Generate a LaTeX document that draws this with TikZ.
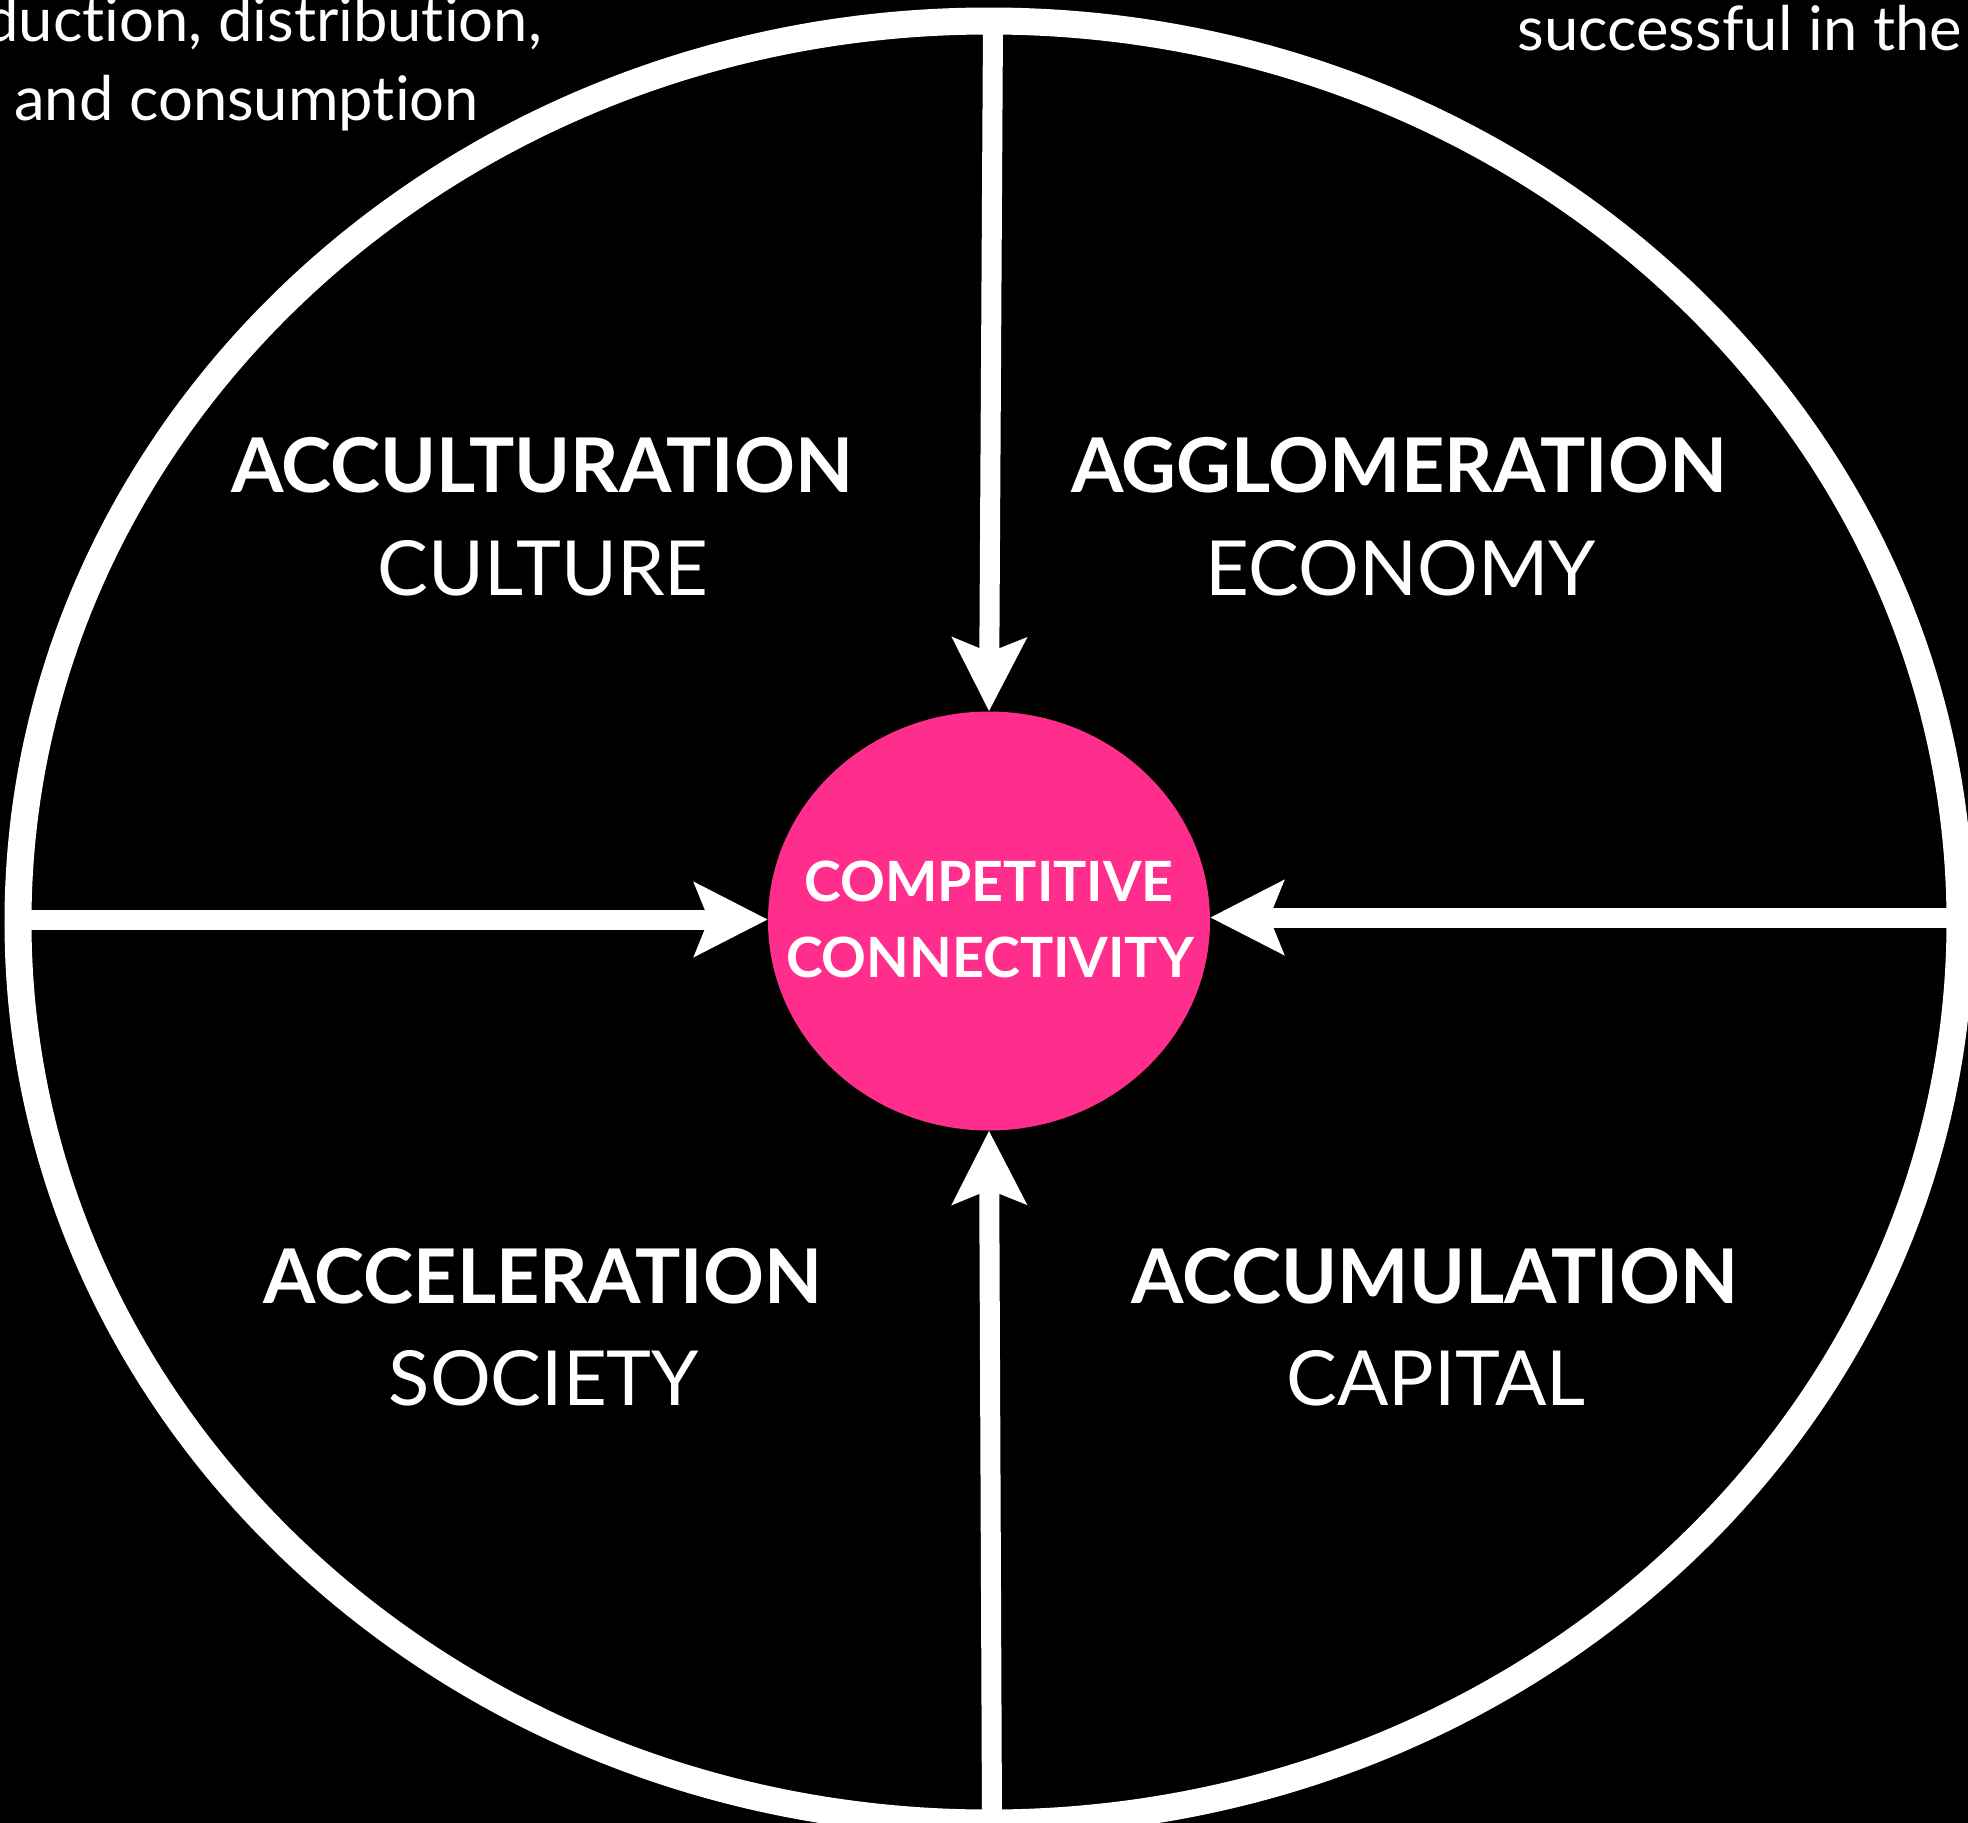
\documentclass[tikz,border=0pt]{standalone}
\usepackage{fontspec}
\setmainfont{Lato}[Ligatures={NoCommon}]
\usetikzlibrary{arrows.meta,shapes.geometric}
\definecolor{hubpink}{RGB}{255,46,140}
\tikzset{
  conn/.style={draw=white,line width=20pt,-{Stealth[length=73pt,width=73pt,inset=14pt]}},
  boldlab/.style={text=white,font=\fontsize{75.5}{80}\selectfont\bfseries,inner sep=0pt},
  reglab/.style={text=white,font=\fontsize{76}{80}\selectfont,inner sep=0pt},
  bodytxt/.style={text=white,font=\fontsize{61.5}{64}\selectfont,inner sep=0pt},
  hubtxt/.style={text=white,font=\fontsize{55.5}{58}\selectfont\bfseries,inner sep=0pt,align=center}
}
\begin{document}
\begin{tikzpicture}[x=1pt,y=-1pt]
\fill[black] (0,0) rectangle (1968,1823);
\useasboundingbox (0,0) rectangle (1968,1823);
% outer ellipse
\draw[white,line width=27pt] (989,922) ellipse [x radius=971pt,y radius=901pt];
% hub
\node[ellipse,fill=hubpink,minimum width=442pt,minimum height=419pt,inner sep=0pt] (hub) at (989,921) {};
\node[hubtxt,anchor=base] (hubA) at (989,901) {COMPETITIVE};
\node[hubtxt,anchor=base] (hubB) at (990,977) {CONNECTIVITY};
% connector ends on the ellipse
\coordinate (W) at (18,919.5);
\coordinate (E) at (1960,917.5);
\coordinate (N) at (993,21);
\coordinate (S) at (992,1823);
\draw[conn] (N) -- (hub.north);
\draw[conn] (S) -- (hub.south);
\draw[conn] (W) -- (W -| hub.west);
\draw[conn] (E) -- (E -| hub.east);
% quadrant labels
\node[boldlab,anchor=base] (acc) at (542,492) {ACCULTURATION};
\node[reglab,anchor=base] (cul) at (543,595) {CULTURE};
\node[boldlab,anchor=base] (agg) at (1399,492) {AGGLOMERATION};
\node[reglab,anchor=base] (eco) at (1401,595) {ECONOMY};
\node[boldlab,anchor=base] (acl) at (543,1303) {ACCELERATION};
\node[reglab,anchor=base] (soc) at (544,1405) {SOCIETY};
\node[boldlab,anchor=base] (acm) at (1435,1303) {ACCUMULATION};
\node[reglab,anchor=base] (cap) at (1436,1405) {CAPITAL};
% cut-off body text
\node[bodytxt,anchor=base east] (t1) at (542,41) {duction, distribution,};
\node[bodytxt,anchor=base west] (t2) at (14,120) {and consumption};
\node[bodytxt,anchor=base east] (t3) at (1962,50) {successful in the};
\end{tikzpicture}
\end{document}
